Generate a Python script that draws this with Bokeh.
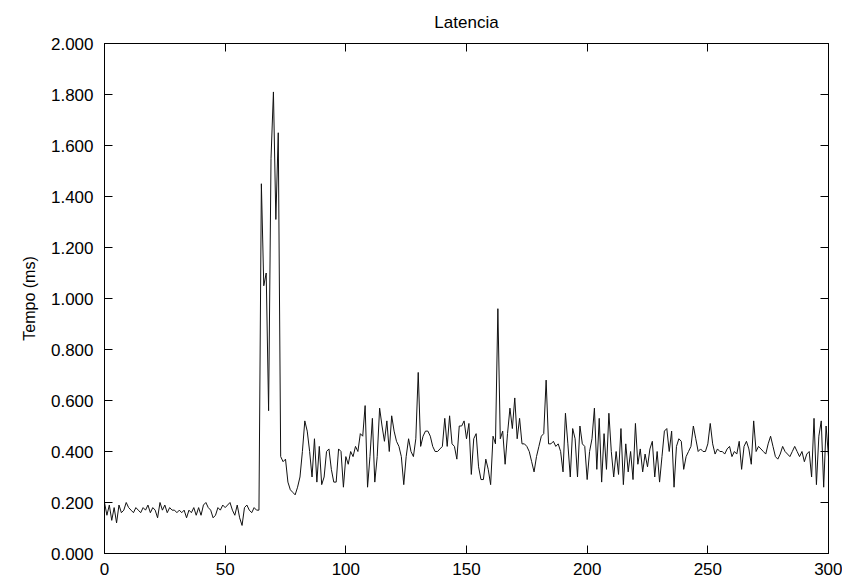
from bokeh.plotting import figure
from bokeh.models import LinearAxis, FixedTicker, PrintfTickFormatter, Range1d
from bokeh.embed import file_html
from bokeh.resources import INLINE

# sample index (x) and latency in ms (y)
latency = [
    0.20, 0.15, 0.19, 0.13, 0.18, 0.12, 0.19, 0.16, 0.17, 0.20,
    0.18, 0.17, 0.16, 0.18, 0.17, 0.16, 0.18, 0.17, 0.19, 0.16,
    0.18, 0.17, 0.14, 0.20, 0.17, 0.19, 0.16, 0.18, 0.17, 0.17,
    0.16, 0.17, 0.16, 0.17, 0.14, 0.17, 0.16, 0.18, 0.15, 0.18,
    0.15, 0.19, 0.20, 0.18, 0.17, 0.14, 0.15, 0.18, 0.17, 0.19,
    0.18, 0.19, 0.20, 0.17, 0.15, 0.19, 0.14, 0.11, 0.18, 0.19,
    0.17, 0.16, 0.18, 0.17, 0.17, 1.45, 1.05, 1.10, 0.56, 1.55,
    1.81, 1.31, 1.65, 0.38, 0.36, 0.37, 0.28, 0.25, 0.24, 0.23,
    0.26, 0.30, 0.40, 0.52, 0.48, 0.40, 0.30, 0.45, 0.28, 0.42,
    0.27, 0.30, 0.40, 0.41, 0.33, 0.28, 0.28, 0.41, 0.40, 0.26,
    0.38, 0.35, 0.40, 0.38, 0.42, 0.40, 0.47, 0.46, 0.58, 0.26,
    0.38, 0.53, 0.28, 0.38, 0.57, 0.50, 0.44, 0.52, 0.40, 0.54,
    0.48, 0.44, 0.42, 0.38, 0.27, 0.38, 0.45, 0.40, 0.38, 0.45,
    0.71, 0.42, 0.46, 0.48, 0.48, 0.46, 0.42, 0.40, 0.40, 0.41,
    0.42, 0.53, 0.42, 0.54, 0.43, 0.42, 0.37, 0.50, 0.50, 0.52,
    0.45, 0.51, 0.31, 0.45, 0.47, 0.34, 0.29, 0.29, 0.37, 0.33,
    0.27, 0.46, 0.43, 0.96, 0.45, 0.48, 0.35, 0.47, 0.57, 0.49,
    0.61, 0.45, 0.53, 0.43, 0.43, 0.42, 0.40, 0.36, 0.32, 0.38,
    0.42, 0.46, 0.47, 0.68, 0.43, 0.43, 0.44, 0.42, 0.43, 0.40,
    0.32, 0.55, 0.43, 0.30, 0.49, 0.45, 0.30, 0.50, 0.43, 0.42,
    0.29, 0.40, 0.45, 0.57, 0.33, 0.53, 0.28, 0.47, 0.33, 0.55,
    0.40, 0.30, 0.40, 0.31, 0.49, 0.27, 0.43, 0.32, 0.40, 0.29,
    0.51, 0.35, 0.41, 0.32, 0.39, 0.34, 0.41, 0.44, 0.30, 0.40,
    0.28, 0.38, 0.48, 0.49, 0.40, 0.48, 0.26, 0.42, 0.45, 0.44,
    0.33, 0.38, 0.40, 0.42, 0.50, 0.45, 0.40, 0.41, 0.40, 0.40,
    0.43, 0.51, 0.43, 0.39, 0.41, 0.40, 0.40, 0.39, 0.41, 0.42,
    0.38, 0.40, 0.39, 0.44, 0.33, 0.42, 0.44, 0.41, 0.35, 0.52,
    0.40, 0.42, 0.41, 0.40, 0.39, 0.43, 0.46, 0.42, 0.38, 0.37,
    0.39, 0.42, 0.40, 0.39, 0.38, 0.40, 0.42, 0.40, 0.38, 0.40,
    0.36, 0.39, 0.40, 0.30, 0.53, 0.27, 0.46, 0.52, 0.26, 0.50,
    0.38,
]
samples = list(range(len(latency)))

x_ticks = [0, 50, 100, 150, 200, 250, 300]
y_ticks = [0.0, 0.2, 0.4, 0.6, 0.8, 1.0, 1.2, 1.4, 1.6, 1.8, 2.0]

FONT = "Liberation Sans"

p = figure(
    frame_width=724, frame_height=510,
    min_border_left=104, min_border_right=14, min_border_top=43, min_border_bottom=28,
    x_range=Range1d(0, 300), y_range=Range1d(0, 2.0),
    output_backend="svg", toolbar_location=None,
    title="Latencia",
)
p.title.align = "center"
p.title.vertical_align = "top"
p.title.text_font = FONT
p.title.text_font_size = "17px"
p.title.text_font_style = "normal"
p.title.text_color = "black"
p.title.standoff = 19

p.line(samples, latency, line_color="#111111", line_width=1)

p.xgrid.visible = False
p.ygrid.visible = False
p.outline_line_color = "black"
p.outline_line_width = 1
p.background_fill_color = "white"
p.border_fill_color = "white"

xt = FixedTicker(ticks=x_ticks, minor_ticks=[])
yt = FixedTicker(ticks=y_ticks, minor_ticks=[])

for ax in p.xaxis:
    ax.ticker = xt
    ax.major_label_standoff = 9
for ax in p.yaxis:
    ax.ticker = yt
    ax.formatter = PrintfTickFormatter(format="%.3f")
    ax.axis_label = "Tempo (ms)"
    ax.axis_label_text_font = FONT
    ax.axis_label_text_font_size = "16px"
    ax.axis_label_text_font_style = "normal"
    ax.axis_label_text_color = "black"
    ax.axis_label_standoff = 10
    ax.major_label_standoff = 11

for ax in list(p.xaxis) + list(p.yaxis):
    ax.major_tick_in = 8
    ax.major_tick_out = 0
    ax.minor_tick_line_color = None
    ax.major_label_text_font = FONT
    ax.major_label_text_font_size = "17px"
    ax.major_label_text_color = "black"
    ax.axis_line_color = "black"
    ax.major_tick_line_color = "black"

top = LinearAxis(ticker=xt, major_label_overrides={t: "" for t in x_ticks},
                 major_tick_in=8, major_tick_out=0, minor_tick_line_color=None,
                 axis_line_color="black", major_label_standoff=0)
right = LinearAxis(ticker=yt, major_label_overrides={t: "" for t in y_ticks},
                   major_tick_in=8, major_tick_out=0, minor_tick_line_color=None,
                   axis_line_color="black", major_label_standoff=0)
p.add_layout(top, "above")
p.add_layout(right, "right")

open("out.html", "w").write(file_html(p, INLINE))
